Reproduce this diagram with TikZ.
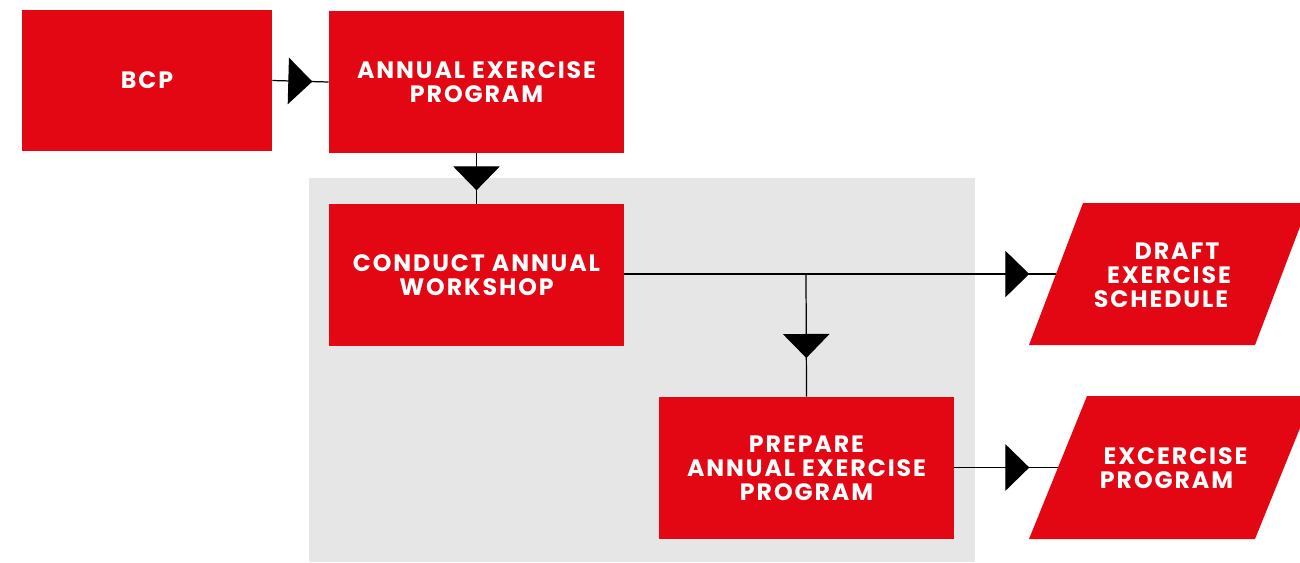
\documentclass[tikz,border=0pt]{standalone}
\usepackage{fontspec}
\setmainfont{Poppins}[LetterSpace=8]
\usetikzlibrary{arrows.meta,decorations.markings}
\definecolor{bcpred}{HTML}{E30613}
\definecolor{bggray}{HTML}{E6E6E6}
\tikzset{
  label/.style={text=white,font=\bfseries\fontsize{13.5}{13.7}\selectfont,align=center,inner sep=0pt},
  box/.style={label,fill=bcpred,minimum width=5.9cm,minimum height=2.84cm},
  flow/.style={line width=0.7pt,postaction={decorate},decoration={markings,
    mark=at position #1 with {\arrow{Triangle[length=0.48cm,width=0.93cm]}}}}
}
\begin{document}
\begin{tikzpicture}[x=0.02cm,y=-0.02cm]
\useasboundingbox (0,0) rectangle (1300,562);
\fill[bggray] (309,178) rectangle (975,562);

\fill[bcpred] (1029,345)--(1083,203)--(1309,203)--(1255,345)--cycle;
\fill[bcpred] (1029,539)--(1087,396)--(1313,396)--(1255,539)--cycle;

\node[box,minimum width=5cm,minimum height=2.82cm] (bcp) at (147,80.5) {BCP};
\node[box] (aep) at (476.5,82) {ANNUAL EXERCISE\\PROGRAM};
\node[box] (workshop) at (476.5,275) {CONDUCT ANNUAL\\WORKSHOP};
\node[box] (prepare) at (806.5,468) {PREPARE\\ANNUAL EXERCISE\\PROGRAM};
\node[label] (draft) at (1169,275) {\hspace*{0.32cm}DRAFT\\EXERCISE\\SCHEDULE\hspace*{0.32cm}};
\node[label] (program) at (1171,468.5) {\hspace*{0.18cm}EXCERCISE\\PROGRAM\hspace*{0.18cm}};
\coordinate (split) at (806,274);
\coordinate (draftin) at (1056,274);
\coordinate (programin) at (1058,467.5);

\draw[flow=0.8cm] (bcp.east) -- (aep.west);
\draw[flow=0.74cm] (aep.south) -- (workshop.north);
\draw[flow=8.1cm] (workshop.east |- split) -- (draftin);
\draw[flow=1.68cm] (split) -- (prepare.north);
\draw[flow=1.5cm] (prepare.east |- programin) -- (programin);
\end{tikzpicture}
\end{document}
